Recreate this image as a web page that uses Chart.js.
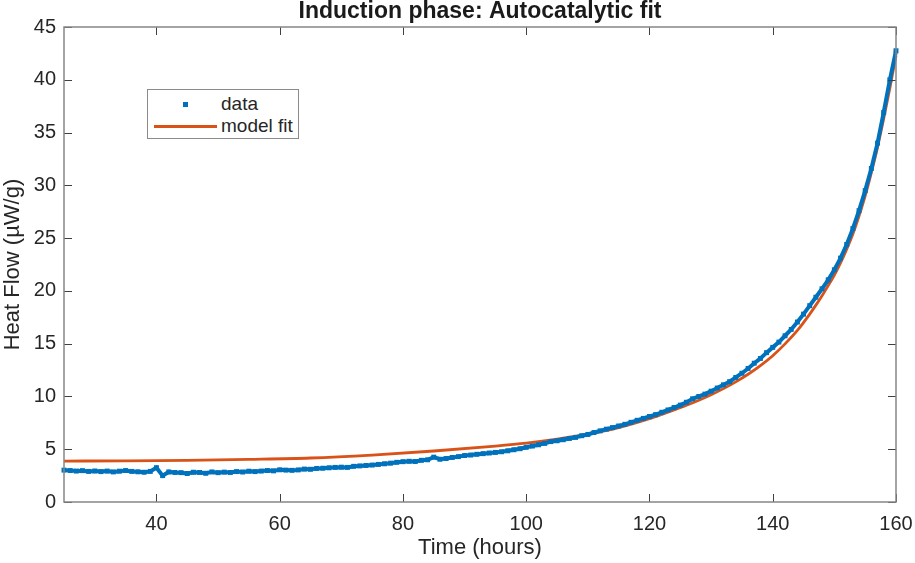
<!DOCTYPE html>
<html>
<head>
<meta charset="utf-8">
<title>Induction phase: Autocatalytic fit</title>
<script src="https://cdn.jsdelivr.net/npm/chart.js@4.4.1/dist/chart.umd.min.js"></script>
<style>
    html, body { margin: 0; padding: 0; background: #fff; }
    #wrap { position: relative; width: 915px; height: 563px; }
    #legend {
        position: absolute; left: 147px; top: 89px; width: 150px; height: 48px;
        border: 1px solid #8a8a8a; background: #fff;
        font: 19px 'Liberation Sans', Arial, sans-serif; color: #262626;
    }
    #legend .marker { position: absolute; left: 35px; top: 12px; width: 5px; height: 5px; background: #0072BD; }
    #legend .line { position: absolute; left: 6px; top: 35px; width: 63px; height: 3px; background: #D95319; }
    #legend .label { position: absolute; left: 73px; line-height: 22px; white-space: nowrap; }
</style>
</head>
<body>
<div id="wrap">
    <canvas id="fitChart" width="915" height="563"></canvas>
    <div id="legend">
        <span class="marker"></span><span class="label" style="top:3px">data</span>
        <span class="line"></span><span class="label" style="top:25px">model fit</span>
    </div>
</div>
<script>
// Measured heat flow, one reading per hour (hours 25 ... 160)
const timeHours = [
    25, 26, 27, 28, 29, 30, 31, 32, 33, 34,
    35, 36, 37, 38, 39, 40, 41, 42, 43, 44,
    45, 46, 47, 48, 49, 50, 51, 52, 53, 54,
    55, 56, 57, 58, 59, 60, 61, 62, 63, 64,
    65, 66, 67, 68, 69, 70, 71, 72, 73, 74,
    75, 76, 77, 78, 79, 80, 81, 82, 83, 84,
    85, 86, 87, 88, 89, 90, 91, 92, 93, 94,
    95, 96, 97, 98, 99, 100, 101, 102, 103, 104,
    105, 106, 107, 108, 109, 110, 111, 112, 113, 114,
    115, 116, 117, 118, 119, 120, 121, 122, 123, 124,
    125, 126, 127, 128, 129, 130, 131, 132, 133, 134,
    135, 136, 137, 138, 139, 140, 141, 142, 143, 144,
    145, 146, 147, 148, 149, 150, 151, 152, 153, 154,
    155, 156, 157, 158, 159, 160
];
const heatFlow = [
    3.02, 2.98, 2.93, 2.97, 2.90, 2.94, 2.88, 2.93, 2.85, 2.92,
    2.98, 2.90, 2.86, 2.82, 2.90, 3.25, 2.50, 2.85, 2.80, 2.78,
    2.70, 2.82, 2.80, 2.72, 2.85, 2.78, 2.83, 2.80, 2.88, 2.84,
    2.92, 2.88, 2.93, 2.98, 2.95, 3.05, 3.02, 3.00, 3.04, 3.12,
    3.10, 3.18, 3.20, 3.24, 3.28, 3.30, 3.28, 3.38, 3.42, 3.46,
    3.50, 3.56, 3.62, 3.68, 3.76, 3.82, 3.86, 3.84, 3.95, 4.00,
    4.25, 4.05, 4.12, 4.22, 4.30, 4.40, 4.45, 4.52, 4.58, 4.64,
    4.70, 4.76, 4.85, 4.95, 5.05, 5.18, 5.30, 5.42, 5.55, 5.72,
    5.80, 5.90, 6.02, 6.12, 6.28, 6.40, 6.58, 6.74, 6.90, 7.05,
    7.20, 7.36, 7.55, 7.74, 7.92, 8.10, 8.28, 8.50, 8.72, 8.95,
    9.18, 9.45, 9.78, 10.00, 10.22, 10.50, 10.80, 11.10, 11.40, 11.80,
    12.20, 12.65, 13.15, 13.60, 14.15, 14.65, 15.15, 15.75, 16.35, 17.05,
    17.80, 18.60, 19.40, 20.20, 21.05, 22.00, 23.10, 24.40, 25.90, 27.60,
    29.50, 31.60, 34.00, 36.90, 40.00, 42.75
];

// Autocatalytic model curve
const fitTime = [25, 35, 45, 55, 65, 75, 85, 95, 100, 105, 110, 115,
    120, 122, 124, 126, 128, 130, 132, 134, 136, 138, 140, 142, 144, 146,
    147, 148, 149, 150, 151, 152, 153, 154, 155, 156, 157, 158, 159, 160];
const fitHeat = [3.88, 3.90, 3.95, 4.04, 4.17, 4.45, 4.83, 5.30, 5.58, 5.95, 6.42, 7.05,
    7.90, 8.30, 8.72, 9.16, 9.64, 10.16, 10.74, 11.38, 12.10, 12.92, 13.86, 14.98, 16.25, 17.80,
    18.65, 19.55, 20.50, 21.50, 22.65, 23.95, 25.40, 27.10, 29.00, 31.20, 33.60, 36.30, 39.20, 42.30];

const xTickValues = [40, 60, 80, 100, 120, 140, 160];
const yTickValues = [0, 5, 10, 15, 20, 25, 30, 35, 40, 45];
const chartTitle = 'Induction phase: Autocatalytic fit';

Chart.defaults.font.family = "'Liberation Sans', Arial, sans-serif";
Chart.defaults.color = '#262626';

// MATLAB-like box with inward tick marks on all four sides, title centred over the axes
const matlabAxes = {
    id: 'matlabAxes',
    afterDatasetsDraw(chart) {
        const { ctx, chartArea: a, scales } = chart;
        const len = 8;
        ctx.save();
        ctx.strokeStyle = '#404040';
        ctx.lineWidth = 1;
        ctx.beginPath();
        scales.x.ticks.forEach(t => {
            const px = Math.round(scales.x.getPixelForValue(t.value)) + 0.5;
            ctx.moveTo(px, a.bottom); ctx.lineTo(px, a.bottom - len);
            ctx.moveTo(px, a.top); ctx.lineTo(px, a.top + len);
        });
        scales.y.ticks.forEach(t => {
            const py = Math.round(scales.y.getPixelForValue(t.value)) + 0.5;
            ctx.moveTo(a.left, py); ctx.lineTo(a.left + len, py);
            ctx.moveTo(a.right, py); ctx.lineTo(a.right - len, py);
        });
        ctx.stroke();
        ctx.strokeStyle = '#868686';
        ctx.lineWidth = 1.5;
        ctx.strokeRect(a.left, a.top, a.right - a.left, a.bottom - a.top);

        ctx.fillStyle = '#1a1a1a';
        ctx.font = "bold 23px 'Liberation Sans', Arial, sans-serif";
        ctx.textAlign = 'center';
        ctx.textBaseline = 'middle';
        ctx.fillText(chartTitle, (a.left + a.right) / 2, 12);
        ctx.restore();
    }
};

const ctx = document.getElementById('fitChart').getContext('2d');
new Chart(ctx, {
    type: 'scatter',
    data: {
        datasets: [{
            label: 'data',
            data: timeHours.map((t, i) => ({ x: t, y: heatFlow[i] })),
            showLine: true,
            borderColor: '#0072BD',
            borderWidth: 4,
            backgroundColor: '#0072BD',
            pointStyle: 'rect',
            pointRadius: 3.5,
            pointBorderWidth: 0,
            clip: 5
        }, {
            label: 'model fit',
            data: fitTime.map((t, i) => ({ x: t, y: fitHeat[i] })),
            showLine: true,
            borderColor: '#D95319',
            borderWidth: 2.8,
            pointRadius: 0,
            cubicInterpolationMode: 'monotone',
            clip: 5
        }]
    },
    options: {
        responsive: false,
        animation: false,
        layout: { padding: { left: 0, right: 19, top: 27, bottom: 0 } },
        plugins: {
            legend: { display: false },
            tooltip: { enabled: false },
            title: { display: false }
        },
        scales: {
            x: {
                type: 'linear',
                min: 25,
                max: 160,
                afterBuildTicks: s => { s.ticks = xTickValues.map(v => ({ value: v })); },
                afterFit: s => { s.height = 61; s.paddingLeft = 0; s.paddingRight = 0; },
                grid: { display: false, drawTicks: false },
                border: { display: false },
                ticks: { font: { size: 20 }, padding: 10, maxRotation: 0 },
                title: { display: true, text: 'Time (hours)', font: { size: 22 }, padding: { top: 0, bottom: 2 } }
            },
            y: {
                min: 0,
                max: 45,
                afterBuildTicks: s => { s.ticks = yTickValues.map(v => ({ value: v })); },
                afterFit: s => { s.width = 64; s.paddingTop = 0; s.paddingBottom = 0; },
                grid: { display: false, drawTicks: false },
                border: { display: false },
                ticks: { font: { size: 20 }, padding: 8 },
                title: { display: true, text: 'Heat Flow (µW/g)', font: { size: 22 }, padding: { top: 0, bottom: 0 } }
            }
        }
    },
    plugins: [matlabAxes]
});
</script>
</body>
</html>
